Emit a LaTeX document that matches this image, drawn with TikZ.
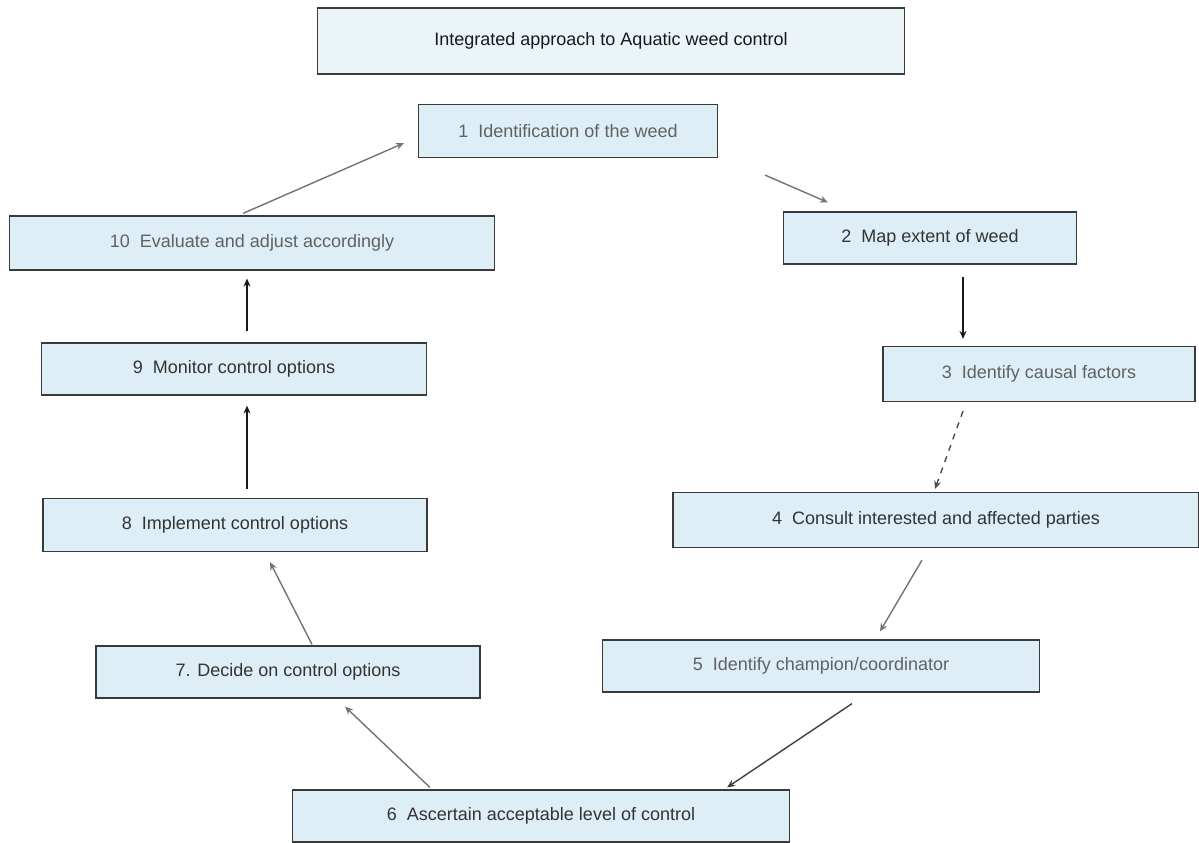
\documentclass[tikz,border=0pt]{standalone}
\usepackage{fontspec}
\setmainfont{Liberation Sans}
\usepackage{tikz}
\usetikzlibrary{arrows.meta}

\definecolor{boxblue}{HTML}{DDEEF7}
\definecolor{titleblue}{HTML}{EAF4F9}
\definecolor{rimgray}{HTML}{3A3A3A}
\tikzset{
  stage/.style={draw=rimgray, line width=0.6pt, fill=boxblue, inner sep=0pt,
    font=\fontsize{9}{11}\selectfont, text=black!80},
  faint/.style={text=black!62},
  flow/.style={-{Stealth[length=4pt,width=3.5pt]}, line width=0.7pt, draw=black!55},
}

\begin{document}
\begin{tikzpicture}[x=0.5pt, y=-0.5pt]
        \useasboundingbox (0,0) rectangle (1199,842);
        % boxes
        \node[stage, fill=titleblue, text=black!90, minimum width=293.5pt, minimum height=33pt] (title) at (611,41) {Integrated approach to Aquatic weed control};
        \node[stage, faint, minimum width=149.5pt, minimum height=26.5pt] (b1) at (568,131) {1\ \ Identification of the weed};
        \node[stage, minimum width=146.5pt, minimum height=26pt] (b2) at (930,238) {2\ \ Map extent of weed};
        \node[stage, faint, minimum width=156pt, minimum height=27.5pt] (b3) at (1039,374) {3\ \ Identify causal factors};
        \node[stage, minimum width=263pt, minimum height=27.5pt] (b4) at (936,520) {4\ \ Consult interested and affected parties};
        \node[stage, faint, minimum width=218.5pt, minimum height=26pt] (b5) at (821,666) {5\ \ Identify champion/coordinator};
        \node[stage, minimum width=248.5pt, minimum height=26pt] (b6) at (541,816) {6\ \ Ascertain acceptable level of control};
        \node[stage, minimum width=192pt, minimum height=26pt] (b7) at (288,672) {7. Decide on control options};
        \node[stage, minimum width=192pt, minimum height=26.5pt] (b8) at (235,525) {8\ \ Implement control options};
        \node[stage, minimum width=192.5pt, minimum height=26pt] (b9) at (234,369) {9\ \ Monitor control options};
        \node[stage, faint, minimum width=242.5pt, minimum height=27pt] (b10) at (252,243) {10\ \ Evaluate and adjust accordingly};
        % arrows
        \draw[flow] ([xshift=-4.5pt,yshift=1pt]b10.north) -- ([xshift=-7pt,yshift=7.5pt]b1.south west);
        \draw[flow] ([xshift=23.5pt,yshift=-8.5pt]b1.south east) -- ([xshift=22.5pt,yshift=4.5pt]b2.north west);
        \draw[flow, draw=black!90] ([xshift=16.5pt,yshift=-6pt]b2.south) -- ([xshift=-38pt,yshift=3.5pt]b3.north);
        \draw[flow, draw=black!70, dashed, -{Stealth[open,length=4pt,width=3.5pt]}] ([xshift=-38pt,yshift=-4.5pt]b3.south) -- ([xshift=-0.5pt,yshift=1.5pt]b4.north);
        \draw[flow] ([xshift=-7pt,yshift=-6pt]b4.south) -- ([xshift=29.5pt,yshift=4pt]b5.north);
        \draw[flow, draw=black!75] ([xshift=15.5pt,yshift=-5.5pt]b5.south) -- ([xshift=-31.5pt,yshift=1pt]b6.north east);
        \draw[flow] ([xshift=69pt,yshift=1pt]b6.north west) -- ([xshift=28.5pt,yshift=-4pt]b7.south);
        \draw[flow] ([xshift=12pt,yshift=0.5pt]b7.north) -- ([xshift=17.5pt,yshift=-5pt]b8.south);
        \draw[flow, draw=black!90, -{Stealth[open,length=4pt,width=3.5pt]}] ([xshift=6pt,yshift=4.5pt]b8.north) -- ([xshift=6.5pt,yshift=-5pt]b9.south);
        \draw[flow, draw=black!90] ([xshift=6.5pt,yshift=5.5pt]b9.north) -- ([xshift=-2.5pt,yshift=-4pt]b10.south);
\end{tikzpicture}
\end{document}
